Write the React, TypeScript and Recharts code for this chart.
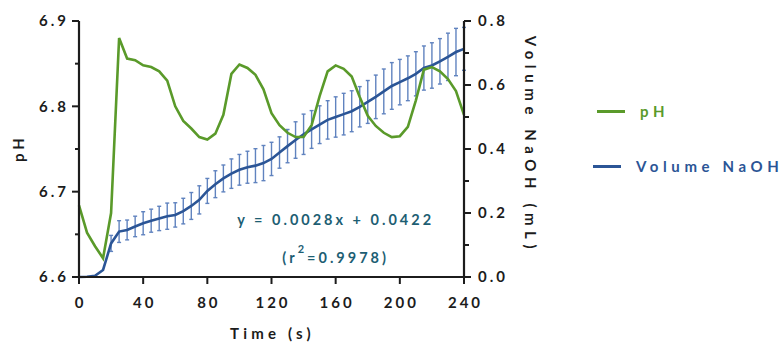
import React from "react";
import {
  ComposedChart,
  Line,
  ErrorBar,
  XAxis,
  YAxis,
  Legend,
  ReferenceDot,
} from "recharts";

// sampled every 5 s
const time = [
  0, 5, 10, 15, 20, 25, 30, 35, 40, 45, 50, 55, 60, 65, 70, 75, 80, 85, 90, 95,
  100, 105, 110, 115, 120, 125, 130, 135, 140, 145, 150, 155, 160, 165, 170,
  175, 180, 185, 190, 195, 200, 205, 210, 215, 220, 225, 230, 235, 240,
];

const ph = [
  6.684, 6.652, 6.636, 6.622, 6.675, 6.88, 6.856, 6.854, 6.848, 6.846, 6.841,
  6.83, 6.8, 6.783, 6.774, 6.764, 6.761, 6.768, 6.79, 6.838, 6.849, 6.845,
  6.837, 6.82, 6.792, 6.778, 6.769, 6.764, 6.764, 6.778, 6.812, 6.841, 6.848,
  6.844, 6.835, 6.811, 6.789, 6.777, 6.769, 6.764, 6.765, 6.776, 6.807, 6.843,
  6.846, 6.841, 6.832, 6.818, 6.79,
];

const volume = [
  0, 0.001, 0.004, 0.022, 0.105, 0.142, 0.147, 0.158, 0.168, 0.176, 0.183,
  0.19, 0.194, 0.206, 0.222, 0.241, 0.269, 0.29, 0.308, 0.323, 0.335, 0.343,
  0.348, 0.356, 0.369, 0.389, 0.409, 0.428, 0.446, 0.461, 0.476, 0.491, 0.5,
  0.509, 0.518, 0.532, 0.547, 0.563, 0.58, 0.597, 0.609, 0.621, 0.635, 0.653,
  0.661, 0.674, 0.688, 0.703, 0.713,
];

const volumeErr = [
  0, 0, 0, 0, 0.025, 0.034, 0.031, 0.032, 0.036, 0.036, 0.038, 0.041, 0.038,
  0.04, 0.042, 0.044, 0.039, 0.042, 0.042, 0.046, 0.048, 0.05, 0.053, 0.055,
  0.052, 0.049, 0.052, 0.057, 0.063, 0.059, 0.059, 0.06, 0.063, 0.065, 0.064,
  0.063, 0.067, 0.068, 0.07, 0.073, 0.071, 0.07, 0.069, 0.069, 0.071, 0.071,
  0.074, 0.074, 0.067,
];

const xTicks = [0, 40, 80, 120, 160, 200, 240];
const phTicks = [6.6, 6.65, 6.7, 6.75, 6.8, 6.85, 6.9];
const volTicks = [0, 0.1, 0.2, 0.3, 0.4, 0.5, 0.6, 0.7, 0.8];

const fitLine = "y = 0.0028x + 0.0422";
const fitR2 = "=0.9978";

const GREEN = "#5a9a2a";
const BLUE = "#2b5596";
const ERR = "#6083bf";
const AXIS = "#1c1c1c";
const TEAL = "#1d5e73";
const FONT = "Lato, 'Open Sans', sans-serif";

const data = time.map((t, i) => ({
  time: t,
  ph: ph[i],
  volume: volume[i],
  err: volumeErr[i],
}));

const tickText = {
  fontFamily: FONT,
  fontWeight: 700,
  fontSize: 15,
  letterSpacing: 3,
  fill: AXIS,
};

function PhTick(props: any) {
  const { x, y, index, payload } = props;
  const major = index % 2 === 0;
  return (
    <g>
      <line x1={x} x2={x - (major ? 7 : 4)} y1={y} y2={y} stroke={AXIS} strokeWidth={2} />
      {major && (
        <text x={x - 10} y={y} dy="0.36em" textAnchor="end" style={tickText}>
          {payload.value.toFixed(1)}
        </text>
      )}
    </g>
  );
}

function VolTick(props: any) {
  const { x, y, index, payload } = props;
  const major = index % 2 === 0;
  return (
    <g>
      <line x1={x} x2={x + (major ? 7 : 5)} y1={y} y2={y} stroke={AXIS} strokeWidth={2} />
      {major && (
        <text x={x + 14} y={y} dy="0.36em" textAnchor="start" style={tickText}>
          {payload.value.toFixed(1)}
        </text>
      )}
    </g>
  );
}

function PhTitle(props: any) {
  const { viewBox } = props;
  const cx = viewBox.x + 18;
  const cy = viewBox.y + viewBox.height / 2 - 1;
  return (
    <text
      x={cx}
      y={cy}
      textAnchor="middle"
      dominantBaseline="central"
      transform={`rotate(-90 ${cx} ${cy})`}
      style={{ ...tickText, letterSpacing: 4 }}
    >
      pH
    </text>
  );
}

function VolTitle(props: any) {
  const { viewBox } = props;
  const cx = viewBox.x + 67;
  const cy = viewBox.y + viewBox.height / 2 - 4;
  return (
    <text
      x={cx}
      y={cy}
      textAnchor="middle"
      dominantBaseline="central"
      transform={`rotate(90 ${cx} ${cy})`}
      style={{ ...tickText, letterSpacing: 5.6 }}
    >
      Volume NaOH  (mL)
    </text>
  );
}

function TimeTitle(props: any) {
  const { viewBox } = props;
  return (
    <text
      x={viewBox.x + viewBox.width / 2 + 1}
      y={viewBox.y + 62}
      textAnchor="middle"
      style={{ ...tickText, letterSpacing: 4.2 }}
    >
      Time (s)
    </text>
  );
}

function FitLabel(props: any) {
  const { viewBox } = props;
  const cx = viewBox.x + viewBox.width / 2;
  const cy = viewBox.y + viewBox.height / 2;
  const st = { ...tickText, fill: TEAL, fontSize: 14.5 };
  return (
    <g>
      <text x={cx} y={cy} dy="0.36em" textAnchor="middle" style={st}>
        {fitLine}
      </text>
      <text x={cx} y={cy + 38} dy="0.36em" textAnchor="middle" style={st}>
        (r
        <tspan dy={-10} fontSize={11}>2</tspan>
        <tspan dy={10}>{fitR2})</tspan>
      </text>
    </g>
  );
}

function LegendBox() {
  const rows = [
    { name: "pH", color: GREEN, top: 0, lx: 4, tx: 47 },
    { name: "Volume NaOH", color: BLUE, top: 55, lx: 0, tx: 43 },
  ];
  return (
    <div style={{ position: "relative", width: 189, height: 80 }}>
      {rows.map((r) => (
        <div key={r.name}>
          <div
            style={{
              position: "absolute",
              left: r.lx,
              top: r.top + 9,
              width: 28,
              height: 3,
              background: r.color,
            }}
          />
          <div
            style={{
              position: "absolute",
              left: r.tx,
              top: r.top,
              color: r.color,
              fontFamily: FONT,
              fontWeight: 700,
              fontSize: 15,
              letterSpacing: 4.6,
              whiteSpace: "nowrap",
              lineHeight: "20px",
            }}
          >
            {r.name}
          </div>
        </div>
      ))}
    </div>
  );
}

export default function App() {
  return (
    <div style={{ position: "absolute", left: 0, top: 0, width: 783, height: 347, background: "#fff", overflow: "hidden" }}>
      <ComposedChart
        width={783}
        height={347}
        data={data}
        margin={{ top: 21, right: 0, bottom: 0, left: 0 }}
      >
        <XAxis
          dataKey="time"
          type="number"
          domain={[0, 240]}
          ticks={xTicks}
          height={70}
          axisLine={{ stroke: AXIS, strokeWidth: 2.2 }}
          tickLine={{ stroke: AXIS, strokeWidth: 2 }}
          tickSize={7}
          tickMargin={13}
          tick={{ ...tickText, dx: 1.5 }}
          label={<TimeTitle />}
        />
        <YAxis
          yAxisId="left"
          domain={[6.6, 6.9]}
          ticks={phTicks}
          width={79}
          axisLine={{ stroke: AXIS, strokeWidth: 2.2 }}
          tickLine={false}
          tickSize={0}
          tickMargin={0}
          tick={<PhTick />}
          interval={0}
          label={<PhTitle />}
        />
        <YAxis
          yAxisId="right"
          orientation="right"
          domain={[0, 0.8]}
          ticks={volTicks}
          width={319}
          axisLine={{ stroke: AXIS, strokeWidth: 2.2 }}
          tickLine={false}
          tickSize={0}
          tickMargin={0}
          tick={<VolTick />}
          interval={0}
          label={<VolTitle />}
        />
        <Line
          yAxisId="right"
          dataKey="volume"
          name="Volume NaOH"
          stroke={BLUE}
          strokeWidth={2.6}
          dot={false}
          isAnimationActive={false}
        >
          <ErrorBar dataKey="err" direction="y" width={2} stroke={ERR} strokeWidth={1.4} isAnimationActive={false} />
        </Line>
        <Line
          yAxisId="left"
          dataKey="ph"
          name="pH"
          stroke={GREEN}
          strokeWidth={2.6}
          dot={false}
          isAnimationActive={false}
        />
        <ReferenceDot
          yAxisId="right"
          x={160}
          y={0.178}
          r={0}
          fill="none"
          stroke="none"
          label={<FitLabel />}
        />
        <Legend
          layout="horizontal"
          verticalAlign="middle"
          align="center"
          content={() => <LegendBox />}
          wrapperStyle={{ left: 593, top: 101, width: 189, height: 80 }}
        />
      </ComposedChart>
    </div>
  );
}
